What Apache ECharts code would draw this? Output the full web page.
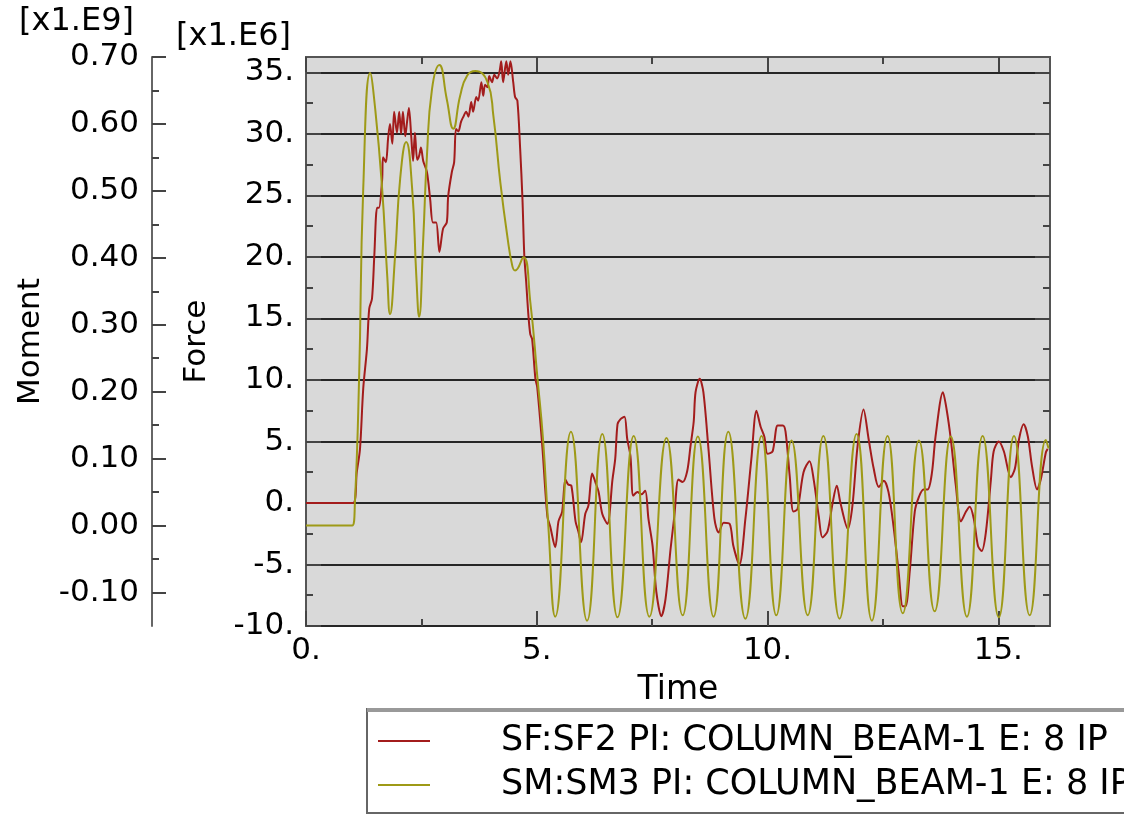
<!DOCTYPE html>
<html><head><meta charset="utf-8">
<script src="https://cdn.jsdelivr.net/npm/echarts@6/dist/echarts.min.js"></script>
<style>html,body{margin:0;padding:0;background:#fff}#c{width:1124px;height:814px}</style>
</head><body><div id="c"></div>
<script>
// ---- data ----
const sfTime = [0,1.02,1.10,1.17,1.24,1.32,1.37,1.43,1.48,1.54,1.58,1.65,1.67,1.73,1.78,1.82,1.87,1.91,1.97,2.02,2.06,2.10,2.15,2.19,2.23,2.28,2.32,2.36,2.41,2.45,2.49,2.54,2.62,2.69,2.75,2.82,2.89,2.97,3.05,3.08,3.16,3.21,3.25,3.30,3.36,3.41,3.47,3.52,3.58,3.62,3.69,3.73,3.80,3.84,3.88,3.93,3.97,4.03,4.08,4.14,4.19,4.23,4.27,4.34,4.38,4.43,4.49,4.53,4.58,4.64,4.69,4.73,4.77,4.82,4.86,4.90,4.97,5.01,5.12,5.23,5.29,5.40,5.47,5.55,5.62,5.68,5.75,5.84,5.90,5.96,6.05,6.12,6.20,6.27,6.34,6.42,6.53,6.64,6.70,6.75,6.81,6.90,6.96,7.03,7.09,7.18,7.27,7.35,7.42,7.51,7.59,7.70,7.79,7.90,7.98,8.07,8.16,8.26,8.33,8.40,8.44,8.53,8.61,8.72,8.85,8.94,9.05,9.18,9.26,9.39,9.52,9.65,9.76,9.85,9.93,10.00,10.11,10.22,10.33,10.39,10.48,10.56,10.65,10.78,10.91,11.00,11.11,11.19,11.30,11.41,11.50,11.58,11.74,11.84,11.95,12.08,12.19,12.30,12.41,12.52,12.62,12.73,12.84,12.93,12.99,13.08,13.19,13.28,13.38,13.47,13.56,13.64,13.80,13.88,13.97,14.08,14.19,14.30,14.38,14.47,14.56,14.64,14.73,14.84,14.90,15.01,15.12,15.27,15.36,15.45,15.55,15.64,15.73,15.84,15.92,16.03,16.07];
const sfForce = [0,0,2.5,4.4,9.3,12.5,15.8,16.6,20.1,24.0,24.0,26.3,28.1,27.7,29.7,30.8,29.2,31.8,30.1,31.8,30.0,31.8,29.8,31.0,32.1,29.8,27.8,30.1,27.9,28.2,28.9,27.8,26.9,24.7,22.8,22.8,20.4,22.3,22.8,24.9,26.9,27.7,30.4,30.2,31.0,31.4,31.8,31.4,32.6,31.8,33.0,32.7,34.2,33.1,34.0,33.8,34.7,34.2,34.8,34.5,35.0,35.9,34.2,35.9,34.8,35.9,34.2,33.0,32.7,28.8,24.7,20.1,18.0,15.2,13.7,13.3,10.1,9.4,4.6,-1.1,-1.9,-3.6,-1.5,-0.7,1.9,1.5,1.4,-1.5,-2.3,-3.2,-0.9,-0.2,2.4,1.7,0.9,-0.9,-1.7,1.9,3.6,6.4,6.8,7.0,5.2,3.8,0.6,0.9,0.7,1.0,-1.3,-3.5,-7.2,-9.2,-7.8,-3.7,-1.1,1.9,1.7,2.6,4.6,6.6,9.0,10.1,9.0,4.4,-1.3,-2.4,-1.6,-1.7,-3.5,-5.0,-1.3,3.6,7.5,6.2,5.4,4.0,4.2,6.3,6.3,5.8,2.2,-0.7,-0.5,2.5,3.4,1.9,-1.1,-2.8,-2.3,0,1.4,0,-2.1,-0.2,4.6,7.6,5.2,2.8,1.3,1.8,0.9,-1.9,-5.6,-8.4,-8.4,-5.6,-0.7,0.5,1.1,1.1,2.4,5.4,9.0,7.6,5.2,1.4,-1.5,-0.7,-0.3,-1.3,-3.5,-3.9,-2.4,1.9,4.2,5.0,4.2,2.1,2.8,5.2,6.4,5.4,3.0,1.1,1.9,4.1,4.4];

const smTime = [0,1.00,1.06,1.15,1.24,1.39,1.50,1.65,1.76,1.82,1.93,2.04,2.17,2.30,2.39,2.45,2.54,2.62,2.73,2.89,3.05,3.19,3.34,3.49,3.67,3.93,4.06,4.21,4.36,4.47,4.53,4.71,4.86,5.01,5.14,5.25,5.40,5.74,6.09,6.42,6.75,7.10,7.44,7.81,8.16,8.49,8.83,9.15,9.52,9.87,10.19,10.52,10.87,11.21,11.56,11.93,12.26,12.60,12.93,13.28,13.62,13.97,14.32,14.66,15.01,15.34,15.68,16.03,16.09];
const smMoment = [0,0,0.035,0.219,0.503,0.676,0.622,0.503,0.373,0.316,0.403,0.518,0.573,0.503,0.373,0.312,0.428,0.552,0.652,0.688,0.637,0.593,0.642,0.672,0.679,0.663,0.612,0.513,0.433,0.388,0.381,0.401,0.334,0.224,0.125,0.0,-0.136,0.140,-0.142,0.137,-0.137,0.134,-0.136,0.131,-0.134,0.133,-0.136,0.140,-0.139,0.134,-0.134,0.127,-0.134,0.134,-0.139,0.137,-0.142,0.134,-0.131,0.127,-0.128,0.133,-0.136,0.134,-0.137,0.134,-0.134,0.128,0.115];

const timeTicks = [0,5,10,15];
const timeMinorTicks = [2.5,7.5,12.5];
const forceTicks = [-10,-5,0,5,10,15,20,25,30,35];
const forceMinorTicks = [-7.5,-2.5,2.5,7.5,12.5,17.5,22.5,27.5,32.5];
const momentTicks = [-0.1,0,0.1,0.2,0.3,0.4,0.5,0.6,0.7];
const momentMinorTicks = [-0.05,0.05,0.15,0.25,0.35,0.45,0.55,0.65];
const seriesNames = ['SF:SF2 PI: COLUMN_BEAM-1 E: 8 IP', 'SM:SM3 PI: COLUMN_BEAM-1 E: 8 IP'];
const unitLabels = ['[x1.E9]', '[x1.E6]'];
const axisNames = {x: 'Time', force: 'Force', moment: 'Moment'};

// ---- chart ----
const FONT = 'DejaVu Sans';
const TICK_COLOR = '#444';
const sfData = sfTime.map((t, i) => [t, sfForce[i]]);
const smData = smTime.map((t, i) => [t, smMoment[i]]);
const labelStyle = {fontFamily: FONT, fontSize: 31, color: '#000'};
const fmtDot = v => (Math.round(v * 100) / 100) + '.';

function xAx(pos, ticks, len, withLabel) {
  return {
    type: 'value', position: pos, min: 0, max: 16.12,
    axisLine: {show: false, onZero: false}, splitLine: {show: false},
    axisTick: {show: true, inside: true, length: len, customValues: ticks, lineStyle: {color: TICK_COLOR, width: 2}},
    axisLabel: withLabel ? Object.assign({show: true, customValues: ticks, formatter: fmtDot, margin: 9}, labelStyle) : {show: false},
    name: withLabel ? axisNames.x : '', nameLocation: 'middle', nameGap: 48,
    nameTextStyle: {fontFamily: FONT, fontSize: 33, color: '#000'}
  };
}
function forceAx(pos, ticks, len, main) {
  return {
    type: 'value', position: pos, min: -10, max: 36.25, interval: 5,
    axisLine: {show: false, onZero: false},
    splitLine: {show: !!main, lineStyle: {color: '#262626', width: 2}},
    axisTick: {show: true, inside: true, length: len, customValues: ticks, lineStyle: {color: TICK_COLOR, width: 2}},
    axisLabel: main ? Object.assign({show: true, customValues: ticks, formatter: fmtDot, margin: 12}, labelStyle) : {show: false},
    name: main ? axisNames.force : '', nameLocation: 'middle', nameRotate: 90, nameGap: 94,
    nameTextStyle: {fontFamily: FONT, fontSize: 31, color: '#000'}
  };
}
function momentAx(ticks, len, main) {
  return {
    type: 'value', position: 'left', offset: 154, min: -0.15, max: 0.70,
    axisLine: {show: !!main, onZero: false, lineStyle: {color: '#666', width: 2}},
    splitLine: {show: false},
    axisTick: {show: true, inside: true, length: len, customValues: ticks, lineStyle: {color: TICK_COLOR, width: 2}},
    axisLabel: main ? Object.assign({show: true, customValues: ticks, formatter: v => v.toFixed(2), margin: 13}, labelStyle) : {show: false},
    name: main ? axisNames.moment : '', nameLocation: 'middle', nameRotate: 90, nameGap: 106,
    nameTextStyle: {fontFamily: FONT, fontSize: 31, color: '#000'}
  };
}

const chart = echarts.init(document.getElementById('c'), null, {renderer: 'canvas'});
chart.setOption({
  backgroundColor: '#fff',
  animation: false,
  textStyle: {fontFamily: FONT},
  grid: {left: 306, right: 74, top: 57, bottom: 188, show: true, backgroundColor: '#d9d9d9', borderColor: '#555', borderWidth: 2},
  xAxis: [
    xAx('bottom', timeTicks, 15, true),
    xAx('bottom', timeMinorTicks, 7, false),
    xAx('top', timeTicks, 15, false),
    xAx('top', timeMinorTicks, 7, false)
  ],
  yAxis: [
    forceAx('left', forceTicks, 15, true),
    forceAx('left', forceMinorTicks, 7, false),
    forceAx('right', forceTicks, 15, false),
    forceAx('right', forceMinorTicks, 7, false),
    momentAx(momentTicks, 14, true),
    momentAx(momentMinorTicks, 7, false)
  ],
  legend: {
    orient: 'vertical', left: 378, top: 722, padding: 0,
    icon: 'rect', itemWidth: 52, itemHeight: 2, itemGap: 6,
    textStyle: {fontFamily: FONT, fontSize: 35, color: '#000', lineHeight: 38, padding: [0, 0, 0, 66]},
    data: seriesNames
  },
  graphic: [
    {type: 'rect', silent: true, z: 0, shape: {x: 367, y: 709, width: 800, height: 104}, style: {fill: '#fff', stroke: '#666', lineWidth: 2}},
    {type: 'line', silent: true, z: 1, shape: {x1: 367, y1: 710, x2: 1124, y2: 710}, style: {stroke: '#999', lineWidth: 4}},
    {type: 'text', left: 19, top: 6, style: {text: unitLabels[0], font: '32px "DejaVu Sans"', fill: '#000'}},
    {type: 'text', left: 176, top: 21, style: {text: unitLabels[1], font: '32px "DejaVu Sans"', fill: '#000'}}
  ],
  series: [
    {name: seriesNames[0], type: 'line', xAxisIndex: 0, yAxisIndex: 0, data: sfData, symbol: 'none', smooth: 0.3,
     lineStyle: {color: '#a31c1c', width: 2}, itemStyle: {color: '#a31c1c'}, z: 3},
    {name: seriesNames[1], type: 'line', xAxisIndex: 0, yAxisIndex: 4, data: smData, symbol: 'none', smooth: 0.5,
     lineStyle: {color: '#9e9a17', width: 2}, itemStyle: {color: '#9e9a17'}, z: 4}
  ]
});
</script>
</body></html>
